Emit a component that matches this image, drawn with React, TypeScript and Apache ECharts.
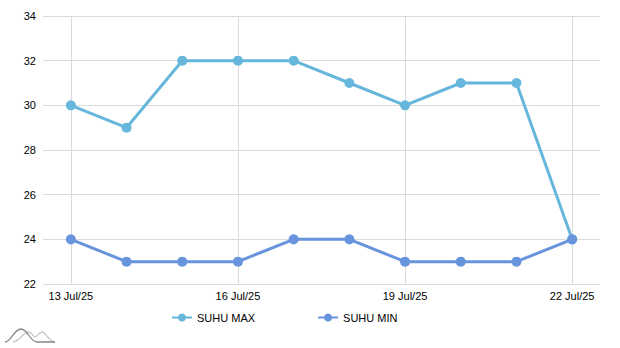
import React, { useEffect, useRef } from "react";
import * as echarts from "echarts";

const categories = [
  "13 Jul/25", "14 Jul/25", "15 Jul/25", "16 Jul/25", "17 Jul/25",
  "18 Jul/25", "19 Jul/25", "20 Jul/25", "21 Jul/25", "22 Jul/25",
];
const suhuMax = [30, 29, 32, 32, 32, 31, 30, 31, 31, 24];
const suhuMin = [24, 23, 23, 23, 24, 24, 23, 23, 23, 24];
const gridDates = ["13 Jul/25", "16 Jul/25", "19 Jul/25", "22 Jul/25"];

let registered = false;
function registerLogo() {
  if (registered) return;
  registered = true;
  echarts.graphic.registerShape(
    "logoDark",
    echarts.graphic.extendPath("M0,13 C6,13 9,0 16,0 C23,0 25,13 32,13 L50,13", {})
  );
  echarts.graphic.registerShape(
    "logoLight",
    echarts.graphic.extendPath("M8,13 C14,13 18,3 24,3 C27,3 28,8 30,8 C32,8 34,3 37,3 C41,3 44,13 50,13", {})
  );
}

export default function App() {
  const ref = useRef<HTMLDivElement>(null);
  useEffect(() => {
    if (!ref.current) return;
    registerLogo();
    const chart = echarts.init(ref.current, undefined, { renderer: "svg" });
    const font = "Arial, 'Liberation Sans', sans-serif";
    chart.setOption({
      animation: false,
      grid: { left: 43, right: 20, top: 16, bottom: 64, containLabel: false },
      legend: {
        left: 171,
        top: 312,
        padding: 0,
        itemWidth: 20,
        itemHeight: 10,
        itemGap: 62,
        textStyle: { fontSize: 11, color: "#000", fontFamily: font },
        data: ["SUHU MAX", "SUHU MIN"],
      },
      xAxis: {
        type: "category",
        data: categories,
        boundaryGap: true,
        axisLine: { show: false },
        axisTick: { show: false },
        splitLine: { show: false },
        axisLabel: { interval: 2, color: "#000", fontSize: 11, fontFamily: font, margin: 6 },
      },
      yAxis: {
        type: "value",
        min: 22,
        max: 34,
        interval: 2,
        axisLine: { show: false },
        axisTick: { show: false },
        splitLine: { lineStyle: { color: "#dadada", width: 1 } },
        axisLabel: { color: "#000", fontSize: 11, fontFamily: font, margin: 7 },
      },
      series: [
        {
          name: "grid",
          type: "line",
          data: [],
          z: 1,
          silent: true,
          markLine: {
            silent: true,
            z: 1,
            symbol: "none",
            label: { show: false },
            lineStyle: { color: "#dadada", width: 1, type: "solid" },
            data: gridDates.map((d) => ({ xAxis: d })),
          },
        },
        {
          name: "SUHU MAX",
          type: "line",
          data: suhuMax,
          z: 3,
          symbol: "circle",
          symbolSize: 10,
          itemStyle: { color: "#67b7dc" },
          lineStyle: { color: "#67b7dc", width: 3 },
        },
        {
          name: "SUHU MIN",
          type: "line",
          data: suhuMin,
          z: 4,
          symbol: "circle",
          symbolSize: 10,
          itemStyle: { color: "#6794dc" },
          lineStyle: { color: "#6794dc", width: 3 },
        },
      ],
      graphic: [
        {
          type: "logoLight",
          x: 5,
          y: 329,
          style: { stroke: "#c8c8c8", fill: "none", lineWidth: 1.3 },
        },
        {
          type: "logoDark",
          x: 5,
          y: 329,
          style: { stroke: "#888", fill: "none", lineWidth: 1.3 },
        },
      ],
    });
    return () => chart.dispose();
  }, []);
  return <div ref={ref} style={{ width: 620, height: 348, position: "absolute", left: 0, top: 0 }} />;
}
